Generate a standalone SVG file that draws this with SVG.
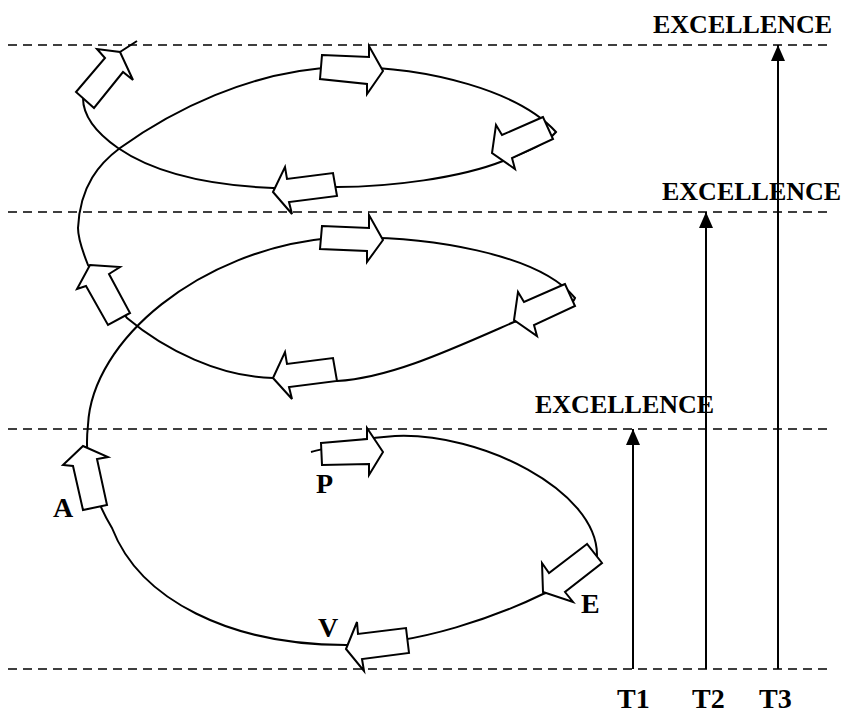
<svg xmlns="http://www.w3.org/2000/svg" width="846" height="713" viewBox="0 0 846 713">
  <defs>
    <style>
      .dash { stroke: #000; stroke-width: 1.6; stroke-dasharray: 9 6; fill: none; }
      .curve { stroke: #000; stroke-width: 2; fill: none; }
      .blk { stroke: #000; stroke-width: 2; fill: #fff; stroke-linejoin: miter; }
      .vline { stroke: #000; stroke-width: 2; fill: none; marker-end: url(#tip); }
      .lbl { font-family: "Liberation Serif", "Times New Roman", serif; font-weight: bold; font-size: 28px; fill: #000; }
      .exc { font-family: "Liberation Serif", "Times New Roman", serif; font-weight: bold; font-size: 26px; fill: #000; }
    </style>
    <marker id="tip" viewBox="0 0 16 14" refX="16" refY="7" markerWidth="16" markerHeight="14" markerUnits="userSpaceOnUse" orient="auto">
      <path d="M0,0 L16,7 L0,14 Z" fill="#000"/>
    </marker>
  </defs>
  <rect width="846" height="713" fill="#fff"/>

  <g id="levels">
    <line class="dash" x1="8" y1="45" x2="828" y2="45"/>
    <line class="dash" x1="8" y1="212" x2="828" y2="212"/>
    <line class="dash" x1="8" y1="429" x2="828" y2="429"/>
    <line class="dash" x1="8" y1="669" x2="828" y2="669"/>
  </g>

  <g id="connectors">
    <path class="curve" d="M311,452 C335,446 360,438 395,436 C480,432 597,490 597,555 C597,575 570,585 543,594 C500,615 420,645 346,645 C230,645 140,600 112,528 C92,495 84,460 88,425 C92,340 200,250 330,238 C430,234 540,255 575,298 C570,310 540,318 514,322 C450,350 390,378 337,381 L273,378 C220,377 165,350 127,318 L88,265 C84,255 78,240 78,228 C80,185 100,163 120,148 C170,112 250,70 340,67 C430,66 520,92 556,132 C545,145 525,152 503,161 C460,178 390,187 337,187 L273,188 C200,185 150,170 118,148 C95,132 83,115 83,98 C90,85 105,65 120,52 L137,41"/>
    <line class="vline" x1="633" y1="669" x2="633" y2="429"/>
    <line class="vline" x1="706" y1="669" x2="706" y2="212"/>
    <line class="vline" x1="778" y1="669" x2="778" y2="45"/>
  </g>

  <g id="arrow-top-left"><polygon class="blk" points="76,92 105,58 97,49 120,52 133,80 123,72 94,108"/></g>
  <g id="arrow-top-top"><polygon class="blk" points="322,55 369,57 369,46 383,71 367,94 367,84 320,79"/></g>
  <g id="arrow-top-right"><polygon class="blk" points="543,117 502,135 496,125 492,153 515,169 512,158 553,139"/></g>
  <g id="arrow-top-bottom"><polygon class="blk" points="273,192 285,167 287,179 333,173 337,196 289,202 292,214"/></g>
  <g id="arrow-mid-left"><polygon class="blk" points="90,265 120,267 109,274 130,313 108,325 86,286 77,289"/></g>
  <g id="arrow-mid-top"><polygon class="blk" points="322,226 369,228 369,215 383,240 367,262 367,251 320,249"/></g>
  <g id="arrow-mid-right"><polygon class="blk" points="565,284 524,302 518,292 514,320 537,336 534,325 575,306"/></g>
  <g id="arrow-mid-bottom"><polygon class="blk" points="273,378 285,352 287,364 333,358 337,381 289,387 292,399"/></g>
  <g id="arrow-A"><polygon class="blk" points="83,446 108,457 97,459 107,505 83,510 73,466 63,465"/></g>
  <g id="arrow-P"><polygon class="blk" points="321,443 367,439 367,428 383,452 369,475 369,464 322,465"/></g>
  <g id="arrow-E"><polygon class="blk" points="587,544 549,573 542,563 543,592 573,602 565,592 602,563"/></g>
  <g id="arrow-V"><polygon class="blk" points="346,649 357,622 358,634 406,628 409,653 362,659 364,671"/></g>

  <g id="label-A"><text class="lbl" x="53" y="517">A</text></g>
  <g id="label-P"><text class="lbl" x="316" y="493">P</text></g>
  <g id="label-E"><text class="lbl" x="581" y="613">E</text></g>
  <g id="label-V"><text class="lbl" x="318" y="637">V</text></g>
  <g id="label-T1"><text class="lbl" x="617" y="708">T1</text></g>
  <g id="label-T2"><text class="lbl" x="692" y="708">T2</text></g>
  <g id="label-T3"><text class="lbl" x="759" y="708">T3</text></g>
  <g id="excellence-1"><text class="exc" x="535" y="413">EXCELLENCE</text></g>
  <g id="excellence-2"><text class="exc" x="662" y="200">EXCELLENCE</text></g>
  <g id="excellence-3"><text class="exc" x="653" y="33">EXCELLENCE</text></g>
</svg>
